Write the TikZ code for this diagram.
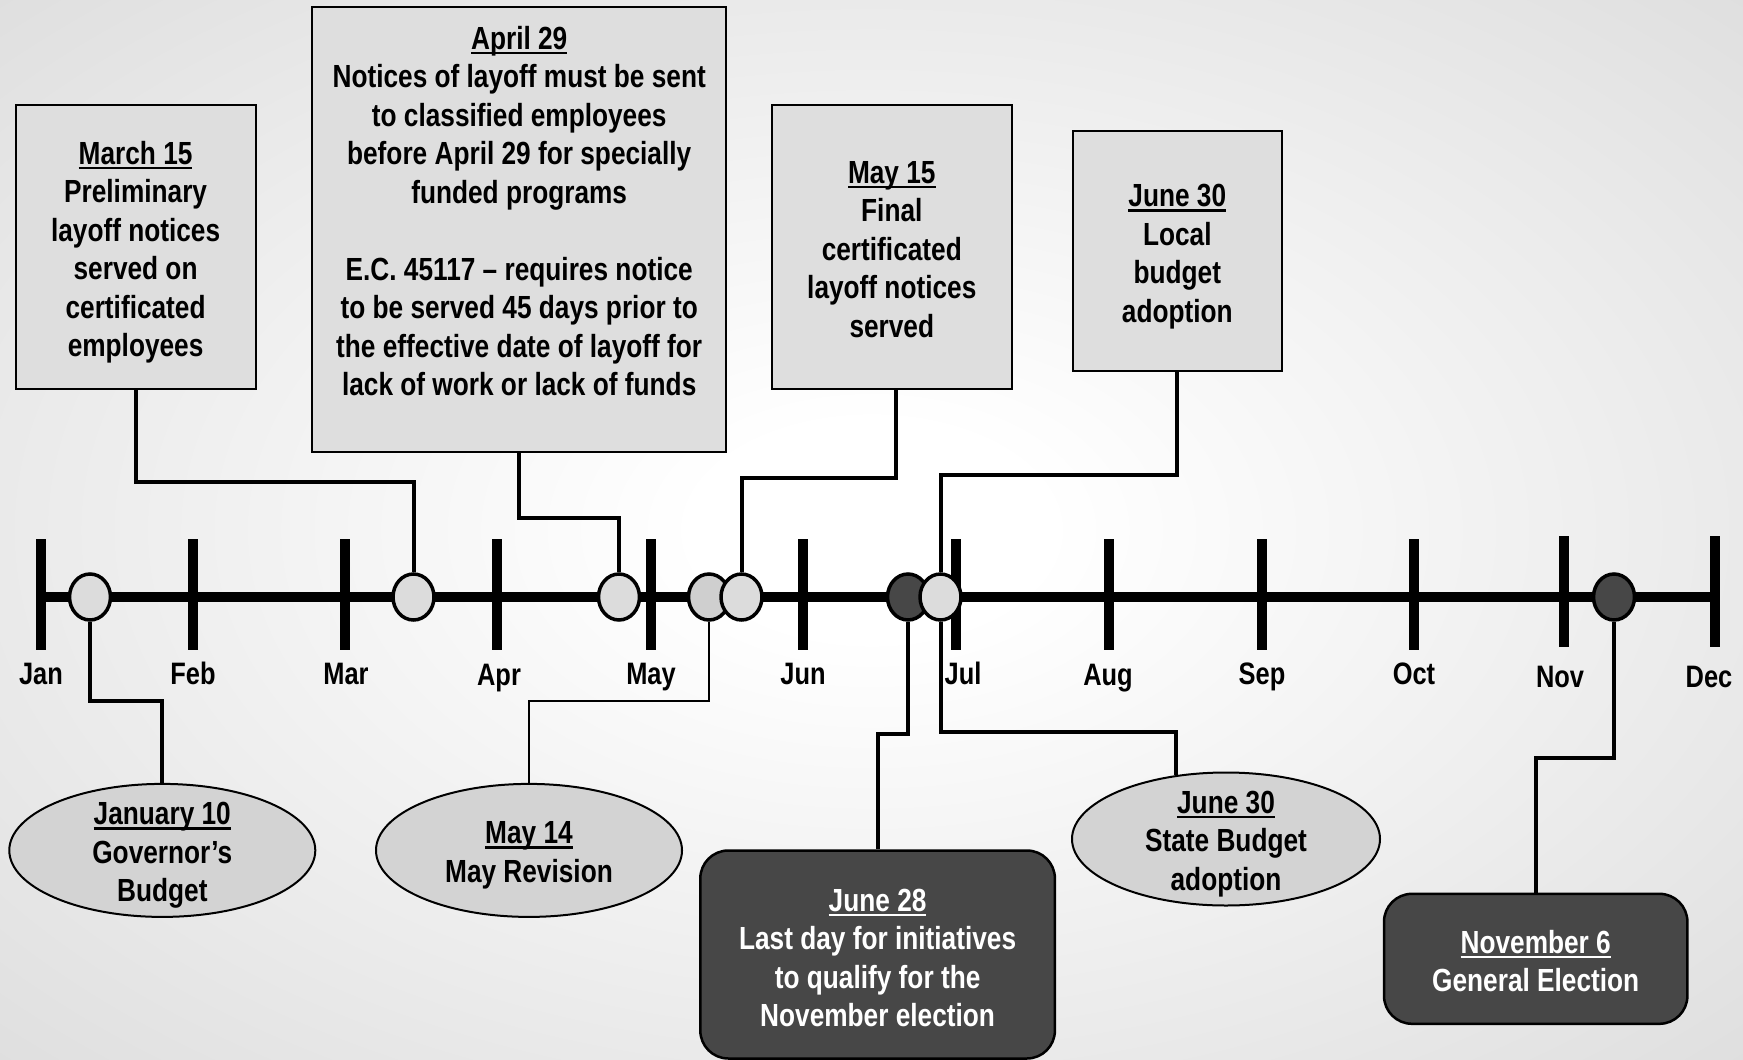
\documentclass[tikz,border=0pt]{standalone}
\usepackage{fontspec}
\setmainfont{Liberation Sans}[FakeStretch=0.82]
\usetikzlibrary{shapes.geometric,calc}
\definecolor{bgout}{HTML}{D2D2D2}
\definecolor{boxfill}{HTML}{DEDEDE}
\definecolor{ellfill}{HTML}{D3D3D3}
\definecolor{darkfill}{HTML}{474747}
\definecolor{circfill}{HTML}{DCDCDC}
\definecolor{circfillb}{HTML}{CFCFCF}
\pgfdeclareradialshading{bgrad}{\pgfpoint{0bp}{0bp}}{color(0bp)=(white); color(5bp)=(white); color(48bp)=(bgout); color(100bp)=(bgout)}
\newcommand\dul[1]{{\setbox0=\hbox{#1}\rlap{\rule[-5pt]{\wd0}{2.5pt}}\box0}}
\tikzset{
  txt/.style={align=center, inner sep=0pt, font=\bfseries\fontsize{32}{38.5}\selectfont},
  wtxt/.style={txt, text=white},
  month/.style={anchor=base, inner sep=0pt, font=\bfseries\fontsize{31}{36}\selectfont},
  notebox/.style={draw=black, line width=2pt, fill=boxfill, inner sep=0pt, minimum width=#1},
  ellbox/.style={ellipse, draw=black, line width=2pt, fill=ellfill, inner sep=0pt},
  darkbox/.style={draw=black, line width=2.5pt, fill=darkfill, rounded corners=28pt, inner sep=0pt},
  evc/.style={ellipse, draw=black, line width=3.5pt, fill=circfill, inner sep=0pt, minimum width=41pt, minimum height=46pt},
  evd/.style={evc, fill=darkfill},
  conn/.style={draw=black, line width=4pt},
  thinconn/.style={draw=black, line width=2.2pt},
  tickline/.style={draw=black, line width=10pt},
  mainline/.style={draw=black, line width=10pt}
}
\begin{document}
\begin{tikzpicture}[x=1pt,y=-1pt]
\useasboundingbox (0,0) rectangle (1743,1060);
\shade[shading=bgrad] (0,0) rectangle (1743,1060);

% month positions on the timeline
\coordinate (tjan) at (41,597);
\coordinate (tfeb) at (192.5,597);
\coordinate (tmar) at (345,597);
\coordinate (tapr) at (497,597);
\coordinate (tmay) at (650.5,597);
\coordinate (tjun) at (802.5,597);
\coordinate (tjul) at (956,597);
\coordinate (taug) at (1108.5,597);
\coordinate (tsep) at (1261.5,597);
\coordinate (toct) at (1414,597);
\coordinate (tnov) at (1564,594);
\coordinate (tdec) at (1715,594);

\draw[mainline] (tjan) -- (tdec |- tjan);
\foreach \m in {tjan,tfeb,tmar,tapr,tmay,tjun,tjul,taug,tsep,toct,tnov,tdec}{
  \draw[tickline] ($(\m)+(0,-58)$) -- ($(\m)+(0,53)$);
}

% month labels
\node[month] (ljan) at (41,684.5) {Jan};
\node[month] (lfeb) at (193,684.5) {Feb};
\node[month] (lmar) at (346,684.5) {Mar};
\node[month] (lapr) at (499,685.5) {Apr};
\node[month] (lmay) at (651,684.5) {May};
\node[month] (ljun) at (803,684.5) {Jun};
\node[month] (ljul) at (963,684.5) {Jul};
\node[month] (laug) at (1108,685.5) {Aug};
\node[month] (lsep) at (1262,684.5) {Sep};
\node[month] (loct) at (1414,684.5) {Oct};
\node[month] (lnov) at (1560,687.5) {Nov};
\node[month] (ldec) at (1709,687.5) {Dec};

% event markers
\node[evc] (c110) at (90,597) {};
\node[evc] (c315) at (413.5,597) {};
\node[evc] (c429) at (619,597) {};
\node[evc, fill=circfillb] (c514) at (709,597) {};
\node[evc] (c515) at (741.5,597) {};
\node[evd] (c628) at (908,597) {};
\node[evc] (c630) at (940.5,597) {};
\node[evd] (c116) at (1614,597) {};

% upper boxes
\node[notebox=240pt, minimum height=284.5pt] (b315) at (135.6,246.8) {};
\node[txt] (t315) at ($(b315)+(0,5.5)$) {\dul{March 15}\\Preliminary\\layoff notices\\served on\\certificated\\employees};

\node[notebox=413.5pt, minimum height=445.7pt] (b429) at (519.2,229.5) {};
\node[txt] (t429) at ($(b429)+(0,-18.5)$) {\dul{April 29}\\Notices of layoff must be sent\\to classified employees\\before April 29 for specially\\funded programs\\[38.5pt]E.C. 45117 -- requires notice\\to be served 45 days prior to\\the effective date of layoff for\\lack of work or lack of funds};

\node[notebox=240.5pt, minimum height=284.5pt] (b515) at (891.8,246.8) {};
\node[txt] (t515) at ($(b515)+(0,2.5)$) {\dul{May 15}\\Final\\certificated\\layoff notices\\served};

\node[notebox=209pt, minimum height=240pt] (b630) at (1177.3,250.8) {};
\node[txt] (t630) at ($(b630)+(0,6)$) {\dul{June 30}\\Local\\budget\\adoption};

% lower shapes
\node[ellbox, minimum width=306pt, minimum height=133pt] (e110) at (162.3,850.4) {};
\node[txt] (te110) at ($(e110)+(0,5)$) {\dul{January 10}\\Governor’s\\Budget};

\node[ellbox, minimum width=306pt, minimum height=133pt] (e514) at (529,850.4) {};
\node[txt] (te514) at ($(e514)+(0,5)$) {\dul{May 14}\\May Revision};

\node[ellbox, minimum width=308pt, minimum height=133pt] (e630s) at (1226,839) {};
\node[txt] (te630s) at ($(e630s)+(0,5)$) {\dul{June 30}\\State Budget\\adoption};

\node[darkbox, minimum width=354.6pt, minimum height=208pt] (d628) at (877.6,954.5) {};
\node[wtxt] (td628) at ($(d628)+(0,3.5)$) {\dul{June 28}\\Last day for initiatives\\to qualify for the\\November election};

\node[darkbox, minimum width=303.4pt, minimum height=130pt] (d116) at (1535.7,958.8) {};
\node[wtxt] (td116) at ($(d116)+(0,2.5)$) {\dul{November 6}\\General Election};

% connectors
\draw[conn] (b315.south) -- ++(0,92.3) -| (c315.north);
\draw[conn] (b429.south) -- ++(0,64.6) -| (c429.north);
\draw[conn] ($(b515.south)+(4,0)$) -- ++(0,88) -| (c515.north);
\draw[conn] (b630.south) -- ++(0,102.7) -| (c630.north);
\draw[conn] (c110.south) -- ++(0,79) -| (e110.north);
\draw[thinconn] (c514.south) -- ++(0,79) -| (e514.north);
\draw[conn] (c628.south) -- ++(0,112.5) -| (d628.north);
\draw[conn] (c630.south) -- ++(0,110) -| (e630s.128);
\draw[conn] (c116.south) -- ++(0,136) -| (d116.north);
\end{tikzpicture}
\end{document}
